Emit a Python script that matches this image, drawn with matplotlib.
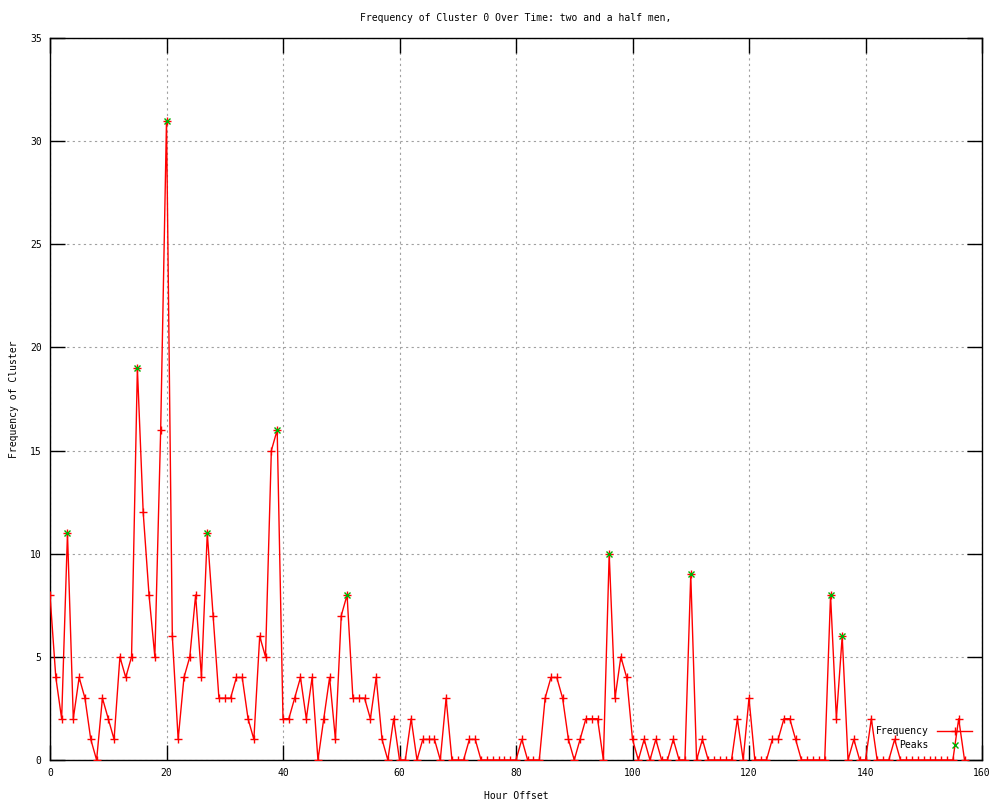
import matplotlib
matplotlib.use("Agg")
import matplotlib.pyplot as plt
from matplotlib.ticker import MultipleLocator

# --- datos ---
hours = list(range(158))
freq = [8, 4, 2, 11, 2, 4, 3, 1, 0, 3,
        2, 1, 5, 4, 5, 19, 12, 8, 5, 16,
        31, 6, 1, 4, 5, 8, 4, 11, 7, 3,
        3, 3, 4, 4, 2, 1, 6, 5, 15, 16,
        2, 2, 3, 4, 2, 4, 0, 2, 4, 1,
        7, 8, 3, 3, 3, 2, 4, 1, 0, 2,
        0, 0, 2, 0, 1, 1, 1, 0, 3, 0,
        0, 0, 1, 1, 0, 0, 0, 0, 0, 0,
        0, 1, 0, 0, 0, 3, 4, 4, 3, 1,
        0, 1, 2, 2, 2, 0, 10, 3, 5, 4,
        1, 0, 1, 0, 1, 0, 0, 1, 0, 0,
        9, 0, 1, 0, 0, 0, 0, 0, 2, 0,
        3, 0, 0, 0, 1, 1, 2, 2, 1, 0,
        0, 0, 0, 0, 8, 2, 6, 0, 1, 0,
        0, 2, 0, 0, 0, 1, 0, 0, 0, 0,
        0, 0, 0, 0, 0, 0, 2, 0]
peak_hours = [3, 15, 20, 27, 39, 51, 96, 110, 134, 136]
peak_values = [11, 19, 31, 11, 16, 8, 10, 9, 8, 6]

title = "Frequency of Cluster 0 Over Time: two and a half men,"

plt.rcParams['font.family'] = ['DejaVu Sans Mono']
plt.rcParams['font.size'] = 7

fig = plt.figure(figsize=(10, 8), dpi=100)
ax = fig.add_axes([0.05, 0.05, 0.932, 0.9025])

ax.plot(hours, freq, color='#ff0000', linewidth=1, marker='+',
        markersize=6, markeredgewidth=1, label='Frequency', zorder=3)
ax.plot(peak_hours, peak_values, linestyle='none', color='#00b000', marker='x',
        markersize=5, markeredgewidth=1, label='Peaks', zorder=4)

ax.set_xlim(0, 160)
ax.set_ylim(0, 35)
ax.xaxis.set_major_locator(MultipleLocator(20))
ax.yaxis.set_major_locator(MultipleLocator(5))
ax.tick_params(direction='in', length=11, width=1, top=True, right=True,
               labelsize=7, color='black')
ax.tick_params(axis='y', pad=6)
ax.tick_params(axis='x', pad=6)
ax.grid(True, color='#a0a0a0', linestyle=(0, (2, 3)), linewidth=0.8)
ax.set_axisbelow(True)
for s in ax.spines.values():
    s.set_linewidth(1)

ax.set_title(title, fontsize=7, pad=12)
ax.set_xlabel("Hour Offset", fontsize=7, labelpad=9)
ax.set_ylabel("Frequency of Cluster", fontsize=7, labelpad=8)

leg = ax.legend(loc='lower right', frameon=False, markerfirst=False,
                fontsize=7, handlelength=3.6, handletextpad=0.9,
                labelspacing=0.45, borderaxespad=0.6)
# alinear texto a la derecha como gnuplot
for col in leg._legend_handle_box.get_children():
    col.align = "right"

fig.savefig("out.png", dpi=100)
